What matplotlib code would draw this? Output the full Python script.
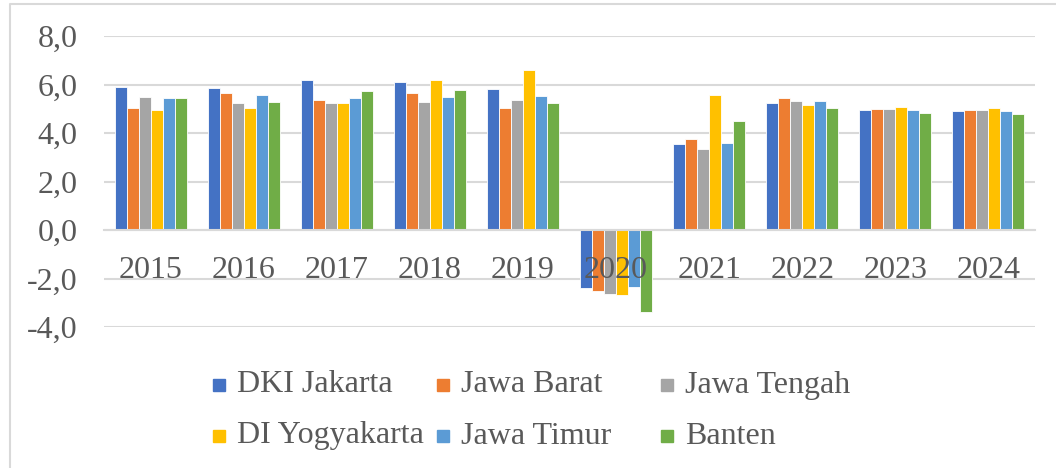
import numpy as np
import matplotlib
matplotlib.use('Agg')
import matplotlib.pyplot as plt
from matplotlib.lines import Line2D
from matplotlib.patches import Rectangle

plt.rcParams['font.family'] = ['Liberation Serif', 'DejaVu Serif']

tahun = ['2015', '2016', '2017', '2018', '2019', '2020', '2021', '2022', '2023', '2024']
provinsi = ['DKI Jakarta', 'Jawa Barat', 'Jawa Tengah', 'DI Yogyakarta', 'Jawa Timur', 'Banten']
warna = ['#4472C4', '#ED7D31', '#A5A5A5', '#FFC000', '#5B9BD5', '#70AD47']

dki = [5.91, 5.87, 6.20, 6.11, 5.82, -2.39, 3.56, 5.25, 4.96, 4.90]
jabar = [5.04, 5.66, 5.35, 5.64, 5.02, -2.52, 3.74, 5.45, 5.00, 4.95]
jateng = [5.47, 5.25, 5.26, 5.30, 5.36, -2.65, 3.33, 5.31, 4.98, 4.95]
diy = [4.95, 5.05, 5.26, 6.20, 6.59, -2.68, 5.58, 5.15, 5.07, 5.03]
jatim = [5.44, 5.57, 5.46, 5.47, 5.53, -2.33, 3.57, 5.34, 4.95, 4.93]
banten = [5.45, 5.28, 5.75, 5.77, 5.26, -3.38, 4.49, 5.03, 4.81, 4.79]

data = [dki, jabar, jateng, diy, jatim, banten]

abu = '#595959'
garis = '#d9d9d9'

fig = plt.figure(figsize=(10.56, 4.68), dpi=100)
ax = fig.add_axes([0.0985, 0.301, 0.8815, 0.622])

x = np.arange(len(tahun))
lebar = 0.129
for i, seri in enumerate(data):
    ax.bar(x + (i - 2.5) * lebar, seri, lebar, color=warna[i],
           edgecolor='white', linewidth=0.6, label=provinsi[i], zorder=2)

ax.set_xlim(-0.5, len(tahun) - 0.5)
ax.set_ylim(-4, 8)
ax.set_yticks([-4, -2, 0, 2, 4, 6, 8])
ax.set_yticklabels([f'{v:.1f}'.replace('.', ',') for v in [-4, -2, 0, 2, 4, 6, 8]])
ax.set_xticks([])

ax.yaxis.grid(True, color=garis, linewidth=1.5)
ax.set_axisbelow(True)
for s in ['top', 'right', 'left']:
    ax.spines[s].set_visible(False)
ax.spines['bottom'].set_position(('data', 0))
ax.spines['bottom'].set_color(garis)
ax.spines['bottom'].set_linewidth(1.5)
ax.tick_params(axis='y', length=0, pad=19, labelsize=23, labelcolor=abu)

# label tahun di bawah garis nol, di atas batang
for xi, t in zip(x, tahun):
    ax.annotate(t, (xi, 0), xytext=(0, -29), textcoords='offset points',
                ha='center', va='center', fontsize=23, color=abu, zorder=5)

# legenda manual, 3 kolom x 2 baris
W, H = 1056, 468
for i, nama in enumerate(provinsi):
    kol, bar_ = i % 3, i // 3
    px = 213 + kol * 224
    py = 385 + bar_ * 51
    fig.patches.append(Rectangle((px / W, 1 - (py + 6) / H), 12 / W, 12 / H,
                                 transform=fig.transFigure, color=warna[i]))
    fig.text((px + 24) / W, 1 - py / H, nama, fontsize=23, color=abu,
             va='center', ha='left')

# bingkai (hanya kiri dan atas yang terlihat)
fig.add_artist(Line2D([10 / W, 10 / W, 1], [0, 1 - 4 / H, 1 - 4 / H],
                      color=garis, linewidth=1.5))

fig.savefig('out.png', dpi=100)
